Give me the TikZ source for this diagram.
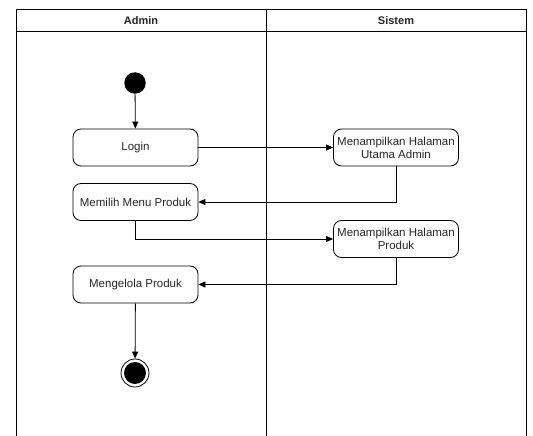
\documentclass[tikz,border=0pt]{standalone}
\usepackage{fontspec}
\setmainfont{Liberation Sans}
\usetikzlibrary{arrows.meta}
\begin{document}
\begin{tikzpicture}[x=1pt,y=-1pt,
  lane/.style={draw=black,line width=1pt},
  act/.style={draw=black,line width=0.8pt,rounded corners=8pt,minimum width=125pt,minimum height=37pt,inner sep=1pt,align=center,font=\fontsize{11.5}{13}\selectfont,text=black!85},
  flow/.style={draw=black,line width=0.8pt,-{Triangle[length=7pt,width=6pt]}},
  title/.style={font=\bfseries\fontsize{11}{13}\selectfont,text=black!85}]
\useasboundingbox (0,0) rectangle (533,436);
% swimlanes
\draw[lane] (16,440) -- (16,10) -- (526,10) -- (526,440);
\draw[lane] (16,31.5) -- (526,31.5);
\draw[lane] (266,10) -- (266,440);
\node[title] (tadmin) at (141,21) {Admin};
\node[title] (tsistem) at (396,21) {Sistem};
% nodes
\node[circle,fill=black,minimum size=21.5pt,inner sep=0pt] (start) at (135,83) {};
\node[act] (login) at (135.5,147.5) {Login};
\node[act] (m1) at (396,147.5) {Menampilkan Halaman\\Utama Admin};
\node[act] (memilih) at (135.5,202) {Memilih Menu Produk};
\node[act] (m2) at (396,239) {Menampilkan Halaman\\Produk};
\node[act] (kelola) at (135.5,284.5) {Mengelola Produk};
\node[circle,draw=black,line width=0.8pt,minimum size=28pt,inner sep=0pt] (end) at (135,373) {};
\node[circle,fill=black,minimum size=22pt,inner sep=0pt] (endin) at (end.center) {};
% connectors
\draw[flow] (start) -- (login);
\draw[flow] (login) -- (m1);
\draw[flow] (m1.south) |- (memilih.east);
\draw[flow] (memilih.south) |- (m2.west);
\draw[flow] (m2.south) |- (kelola.east);
\draw[flow] (kelola) -- (end);
\end{tikzpicture}
\end{document}
